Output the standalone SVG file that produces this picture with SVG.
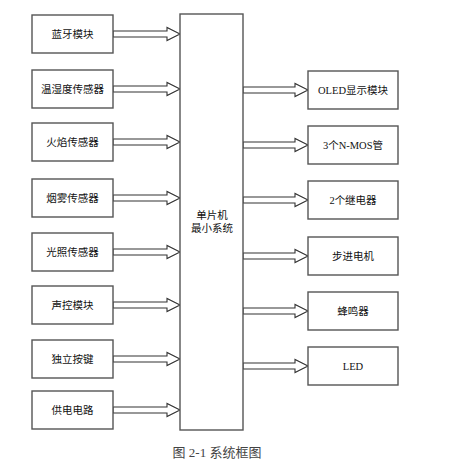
<svg xmlns="http://www.w3.org/2000/svg" width="464" height="466" viewBox="0 0 464 466">
<style>
.box{fill:#fff;stroke:#555;stroke-width:1.4}
.arr{fill:#fff;stroke:#333;stroke-width:1.1;stroke-linejoin:miter}
text{font-family:"Liberation Serif","Noto Sans CJK SC",serif;font-size:10.5px;fill:#111;text-anchor:middle;dominant-baseline:central}
.cap{font-size:13px;fill:#444}
</style>
<defs>
<polygon id="la" class="arr" points="0,-3 54,-3 54,-6.5 67,0 54,6.5 54,3 0,3"/>
<polygon id="ra" class="arr" points="0,-3 52,-3 52,-6.5 65,0 52,6.5 52,3 0,3"/>
</defs>
<rect width="464" height="466" fill="#fff"/>
<g id="connectors">
<use href="#la" x="113" y="34"/>
<use href="#la" x="113" y="89"/>
<use href="#la" x="113" y="142"/>
<use href="#la" x="113" y="198"/>
<use href="#la" x="113" y="252"/>
<use href="#la" x="113" y="305"/>
<use href="#la" x="113" y="359"/>
<use href="#la" x="113" y="410"/>
<use href="#ra" x="243" y="90"/>
<use href="#ra" x="243" y="145"/>
<use href="#ra" x="243" y="200"/>
<use href="#ra" x="243" y="256"/>
<use href="#ra" x="243" y="311"/>
<use href="#ra" x="243" y="366"/>
</g>
<g id="n1"><rect class="box" x="32" y="15" width="81" height="38"/><text x="72.5" y="34">蓝牙模块</text></g>
<g id="n2"><rect class="box" x="32" y="70" width="81" height="38"/><text x="72.5" y="89">温湿度传感器</text></g>
<g id="n3"><rect class="box" x="32" y="123" width="81" height="38"/><text x="72.5" y="142">火焰传感器</text></g>
<g id="n4"><rect class="box" x="32" y="179" width="81" height="38"/><text x="72.5" y="198">烟雾传感器</text></g>
<g id="n5"><rect class="box" x="32" y="233" width="81" height="38"/><text x="72.5" y="252">光照传感器</text></g>
<g id="n6"><rect class="box" x="32" y="286" width="81" height="38"/><text x="72.5" y="305">声控模块</text></g>
<g id="n7"><rect class="box" x="32" y="340" width="81" height="38"/><text x="72.5" y="359">独立按键</text></g>
<g id="n8"><rect class="box" x="32" y="391" width="81" height="38"/><text x="72.5" y="410">供电电路</text></g>
<g id="mcu"><rect class="box" x="180" y="14" width="63" height="416"/><text x="212" y="215">单片机</text><text x="212" y="228">最小系统</text></g>
<g id="r1"><rect class="box" x="308" y="71" width="90" height="38"/><text x="353" y="90">OLED显示模块</text></g>
<g id="r2"><rect class="box" x="308" y="126" width="90" height="38"/><text x="353" y="145">3个N-MOS管</text></g>
<g id="r3"><rect class="box" x="308" y="181" width="90" height="38"/><text x="353" y="200">2个继电器</text></g>
<g id="r4"><rect class="box" x="308" y="237" width="90" height="38"/><text x="353" y="256">步进电机</text></g>
<g id="r5"><rect class="box" x="308" y="292" width="90" height="38"/><text x="353" y="311">蜂鸣器</text></g>
<g id="r6"><rect class="box" x="308" y="347" width="90" height="38"/><text x="353" y="366">LED</text></g>
<text class="cap" x="217" y="452">图 2-1 系统框图</text>
</svg>
